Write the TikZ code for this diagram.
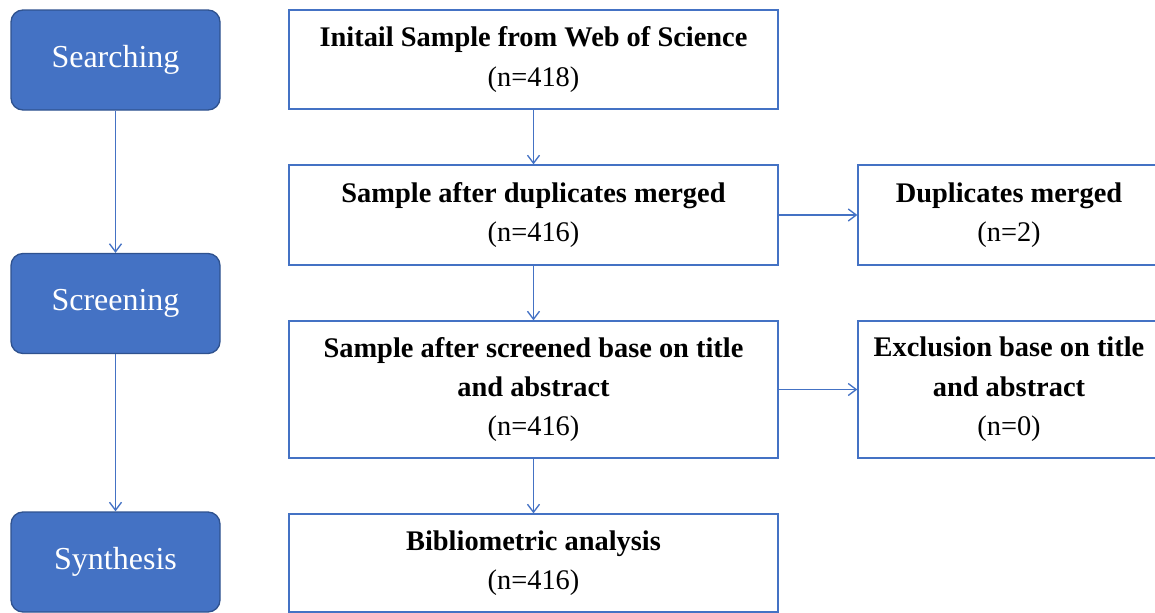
\documentclass[tikz,border=0pt]{standalone}
\usepackage{fontspec}
\setmainfont{Liberation Serif}
\usetikzlibrary{arrows.meta}

\definecolor{stageblue}{RGB}{68,114,196}
\definecolor{stageedge}{RGB}{47,82,143}

\tikzset{every picture/.style={line width=0.75pt}}
\tikzset{
  stagebox/.style={draw=stageedge, fill=stageblue, rounded corners=9pt, line width=1pt,
    minimum width=209*0.75pt, minimum height=100*0.75pt, inner sep=0pt,
    text=white, font=\fontsize{24}{29}\selectfont},
  flowbox/.style={draw=stageblue, fill=white, line width=1pt,
    minimum width=489*0.75pt, inner sep=0pt, align=center,
    font=\fontsize{21.3}{29.6}\selectfont},
  sidebox/.style={flowbox, minimum width=302*0.75pt},
  flowarrow/.style={draw=stageblue, line width=1pt, -{Straight Barb[length=6pt,width=9pt]}}
}

\begin{document}
\begin{tikzpicture}[x=0.75pt,y=0.75pt,yscale=-1,xscale=1]
    \useasboundingbox (0,0) rectangle (1155,612);

    % Stage nodes
    \node [stagebox] (search) at (115.5,60) {Searching};
    \node [stagebox] (screen) at (115.5,303.5) {Screening};
    \node [stagebox] (synth) at (115.5,562) {Synthesis};

    % Flow boxes
    \node [flowbox, minimum height=99*0.75pt] (initial) at (533.5,59.5) {\textbf{Initail Sample from Web of Science}\\(n=418)};
    \node [flowbox, minimum height=100*0.75pt] (merged) at (533.5,215) {\textbf{Sample after duplicates merged}\\(n=416)};
    \node [flowbox, minimum height=137*0.75pt] (screened) at (533.5,389.5) {\textbf{Sample after screened base on title}\\\textbf{and abstract}\\(n=416)};
    \node [flowbox, minimum height=98*0.75pt] (biblio) at (533.5,563) {\textbf{Bibliometric analysis}\\(n=416)};

    % Side boxes
    \node [sidebox, minimum height=100*0.75pt] (dups) at (1009,215) {\textbf{Duplicates merged}\\(n=2)};
    \node [sidebox, minimum height=137*0.75pt] (excl) at (1009,389.5) {\textbf{Exclusion base on title}\\\textbf{and abstract}\\(n=0)};

    % Connectors
    \draw [flowarrow] (search) -- (screen);
    \draw [flowarrow] (screen) -- (synth);
    \draw [flowarrow] (initial) -- (merged);
    \draw [flowarrow] (merged) -- (screened);
    \draw [flowarrow] (screened) -- (biblio);
    \draw [flowarrow] (merged.east) -- (dups.west);
    \draw [flowarrow] (screened.east) -- (excl.west);

  \end{tikzpicture}
\end{document}
